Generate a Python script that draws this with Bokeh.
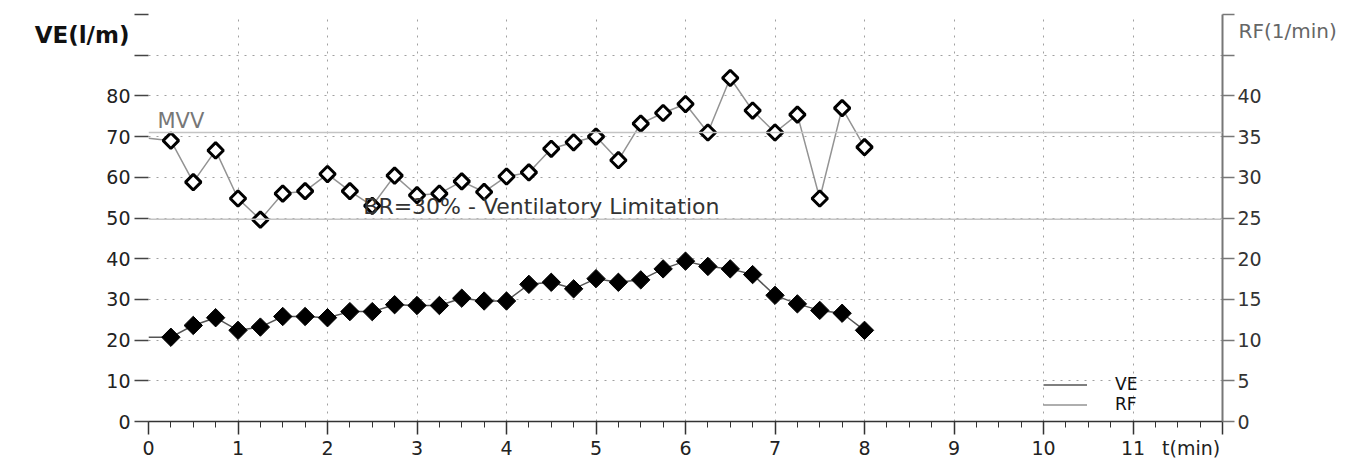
from bokeh.plotting import figure
from bokeh.models import (Range1d, LinearAxis, FixedTicker, Label, Legend,
                          LegendItem, ColumnDataSource, Span)
from bokeh.embed import file_html
from bokeh.resources import INLINE
import math

# ---- data -------------------------------------------------------------
TIME = [0.0, 0.25, 0.5, 0.75, 1.0, 1.25, 1.5, 1.75, 2.0, 2.25, 2.5, 2.75,
        3.0, 3.25, 3.5, 3.75, 4.0, 4.25, 4.5, 4.75, 5.0, 5.25, 5.5, 5.75,
        6.0, 6.25, 6.5, 6.75, 7.0, 7.25, 7.5, 7.75, 8.0]
VE = [20.7, 20.7, 23.6, 25.5, 22.4, 23.2, 25.8, 25.8, 25.5, 27.0, 27.0, 28.7,
      28.5, 28.5, 30.3, 29.6, 29.6, 33.7, 34.2, 32.6, 35.1, 34.2, 34.8, 37.5,
      39.4, 38.1, 37.5, 36.1, 31.0, 28.9, 27.3, 26.6, 22.4]
RF = [34.8, 34.5, 29.4, 33.3, 27.4, 24.8, 28.0, 28.3, 30.4, 28.3, 26.5, 30.2,
      27.8, 28.0, 29.5, 28.2, 30.1, 30.6, 33.5, 34.3, 35.0, 32.1, 36.6, 37.9,
      39.0, 35.5, 42.2, 38.2, 35.5, 37.7, 27.4, 38.5, 33.7]
MVV = 71.0
BR_LEVEL = 49.7
VE_TICKS = [0, 10, 20, 30, 40, 50, 60, 70, 80, 90, 100]
RF_TICKS = [0, 5, 10, 15, 20, 25, 30, 35, 40, 45, 50]
X_TICKS = [0, 1, 2, 3, 4, 5, 6, 7, 8, 9, 10, 11, 12]
VE_TITLE, VE_TITLE_AT = "VE(l/m)", 95
RF_TITLE, RF_TITLE_AT = "RF(1/min)", 48
T_TITLE, T_TITLE_AT = "t(min)", 11.65

FONT = "DejaVu Sans"

line_src = ColumnDataSource(dict(t=TIME, ve=VE, rf=RF))
mark_src = ColumnDataSource(dict(t=TIME[1:], ve=VE[1:], rf=RF[1:]))

p = figure(frame_width=1074, frame_height=407,
           min_border_left=148, min_border_right=139,
           min_border_top=14, min_border_bottom=43,
           x_range=Range1d(0, 12), y_range=Range1d(0, 100),
           output_backend="svg", toolbar_location=None)
p.extra_y_ranges = {"rf": Range1d(0, 50)}
p.outline_line_color = None
p.background_fill_color = "white"
p.border_fill_color = "white"

# grid
p.xgrid.ticker = FixedTicker(ticks=X_TICKS)
p.ygrid.ticker = FixedTicker(ticks=VE_TICKS)
for g in (p.xgrid, p.ygrid):
    g.grid_line_color = "#a0a0a0"
    g.grid_line_dash = "2 6"
    g.grid_line_width = 1


def style_title_axis(ax, standoff, size, color, bold=False):
    ax.axis_line_color = None
    ax.major_tick_line_color = None
    ax.minor_tick_line_color = None
    ax.major_tick_out = 0
    ax.major_tick_in = 0
    ax.major_label_standoff = standoff
    ax.major_label_text_font = FONT
    ax.major_label_text_font_size = size
    ax.major_label_text_color = color
    if bold:
        ax.major_label_text_font_style = "bold"


# left axis
ya = p.yaxis[0]
ya.ticker = FixedTicker(ticks=VE_TICKS)
ya.major_label_overrides = {90: "", 100: ""}
ya.axis_line_color = None
ya.major_tick_line_color = "#444"
ya.major_tick_line_width = 1.5
ya.major_tick_out = 14
ya.major_tick_in = 0
ya.minor_tick_line_color = None
ya.major_label_standoff = 4
ya.major_label_text_font = FONT
ya.major_label_text_font_size = "19px"
ya.major_label_text_color = "#222"

# left title (as an outer axis label)
ya2 = LinearAxis(ticker=FixedTicker(ticks=[VE_TITLE_AT]),
                 major_label_overrides={VE_TITLE_AT: VE_TITLE})
style_title_axis(ya2, -26, "23px", "#111", bold=True)
p.add_layout(ya2, "left")

# right axis
ra = LinearAxis(y_range_name="rf", ticker=FixedTicker(ticks=RF_TICKS))
ra.major_label_overrides = {45: "", 50: ""}
ra.axis_line_color = "#777"
ra.axis_line_width = 2
ra.major_tick_line_color = "#777"
ra.major_tick_line_width = 1.5
ra.major_tick_out = 12
ra.major_tick_in = 0
ra.minor_tick_line_color = None
ra.major_label_standoff = 3
ra.major_label_text_font = FONT
ra.major_label_text_font_size = "19px"
ra.major_label_text_color = "#333"
p.add_layout(ra, "right")

ra2 = LinearAxis(y_range_name="rf", ticker=FixedTicker(ticks=[RF_TITLE_AT]),
                 major_label_overrides={RF_TITLE_AT: RF_TITLE})
style_title_axis(ra2, -26, "20px", "#666")
p.add_layout(ra2, "right")

# bottom axis
xa = p.xaxis[0]
xa.ticker = FixedTicker(ticks=X_TICKS, minor_ticks=[i * 0.25 for i in range(49)])
xa.major_label_overrides = {12: ""}
xa.axis_line_color = "#333"
xa.axis_line_width = 1.5
xa.major_tick_line_color = "#333"
xa.major_tick_line_width = 1.5
xa.major_tick_out = 13
xa.major_tick_in = 0
xa.minor_tick_line_color = "#333"
xa.minor_tick_out = 6
xa.minor_tick_in = 0
xa.major_label_standoff = 6
xa.major_label_text_font = FONT
xa.major_label_text_font_size = "19px"
xa.major_label_text_color = "#222"

xa2 = LinearAxis(ticker=FixedTicker(ticks=[T_TITLE_AT]),
                 major_label_overrides={T_TITLE_AT: T_TITLE})
style_title_axis(xa2, -21, "19px", "#222")
p.add_layout(xa2, "below")

# reference lines
p.add_layout(Span(location=MVV, dimension="width", line_color="#c4c4c4", line_width=1.5))
p.add_layout(Span(location=BR_LEVEL, dimension="width", line_color="#c4c4c4", line_width=1.5))

# series
ve_line = p.line("t", "ve", source=line_src, line_color="#555", line_width=1.5)
rf_line = p.line("t", "rf", source=line_src, y_range_name="rf",
                 line_color="#939393", line_width=1.5)
p.scatter("t", "ve", source=mark_src, marker="square", angle=math.pi / 4,
          size=13, fill_color="black", line_color="black", line_width=1)
p.scatter("t", "rf", source=mark_src, y_range_name="rf", marker="square",
          angle=math.pi / 4, size=11, fill_color="white", line_color="black",
          line_width=3)

# texts inside the plot area
p.add_layout(Label(x=0.1, y=MVV, text="MVV", text_baseline="bottom",
                   text_font=FONT, text_font_size="21px", text_color="#777"))
p.add_layout(Label(x=2.4, y=BR_LEVEL, text="BR=30% - Ventilatory Limitation",
                   text_baseline="bottom", text_font=FONT,
                   text_font_size="22px", text_color="#333"))

# legend
legend = Legend(items=[LegendItem(label="VE", renderers=[ve_line]),
                       LegendItem(label="RF", renderers=[rf_line])],
                location=(895, 7), orientation="vertical",
                padding=0, margin=0, spacing=0,
                glyph_width=44, glyph_height=17, label_height=17,
                label_width=50, label_standoff=28,
                label_text_font=FONT, label_text_font_size="17px",
                label_text_color="#111",
                background_fill_alpha=0, border_line_color=None)
p.add_layout(legend, "center")

open("out.html", "w").write(file_html(p, INLINE))
